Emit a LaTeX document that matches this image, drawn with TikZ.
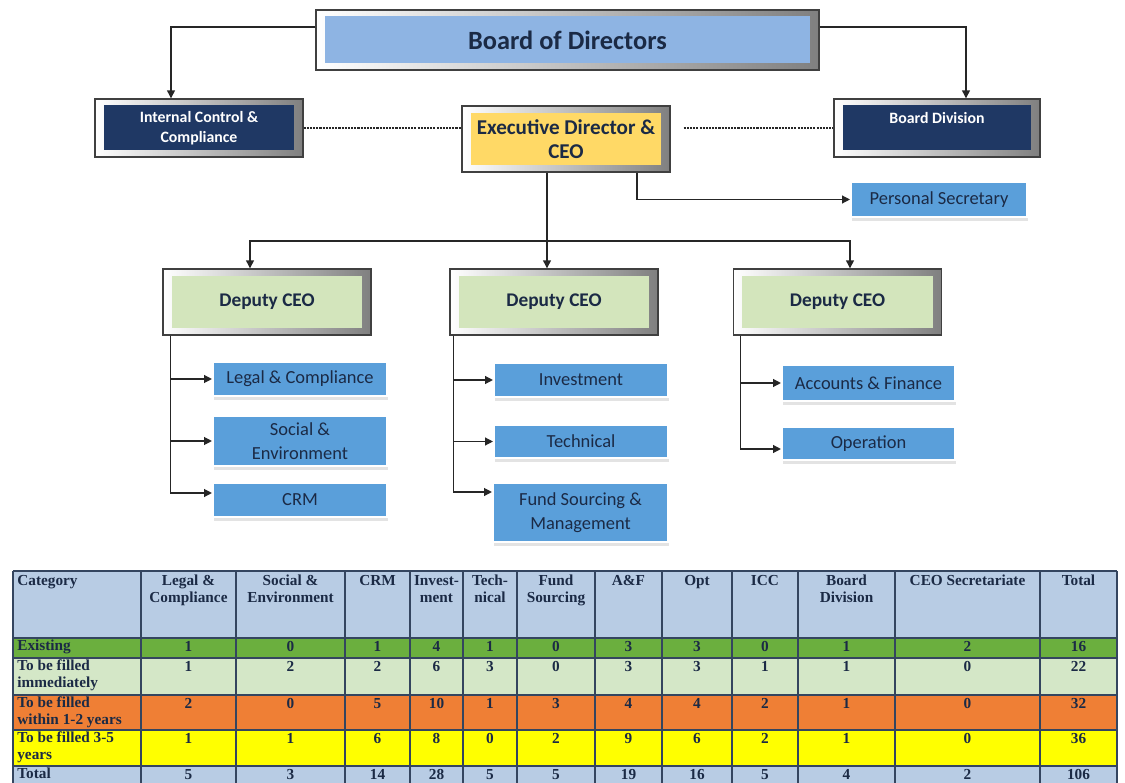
\documentclass[tikz,border=0pt]{standalone}
\usepackage{fontspec}
\setmainfont{Carlito}
\newfontfamily\tabfont{Liberation Serif}
\usetikzlibrary{arrows.meta,calc,positioning,shadows}
\definecolor{OrgInk}{HTML}{1B2A45}
\definecolor{OrgNavy}{HTML}{1F3864}
\definecolor{OrgBoard}{HTML}{8EB4E3}
\definecolor{OrgGold}{HTML}{FFD966}
\definecolor{OrgSage}{HTML}{D3E5BC}
\definecolor{OrgSky}{HTML}{5A9FDA}
\definecolor{TabHead}{HTML}{B8CCE4}
\definecolor{TabGreen}{HTML}{6BAF3E}
\definecolor{TabMint}{HTML}{D4E7C7}
\definecolor{TabOrange}{HTML}{EF7F35}
\definecolor{TabYellow}{HTML}{FFFF00}
\definecolor{TabRule}{HTML}{34455F}
\tikzset{
  every node/.style={text=OrgInk},
  orgbox/.style={draw=black!75, line width=0.8pt, left color=white, right color=black!50, inner sep=0pt, align=center,
    path picture={\fill[#1] ([shift={(0.17cm,0.13cm)}]path picture bounding box.south west) rectangle ([shift={(-0.17cm,-0.13cm)}]path picture bounding box.north east);}},
  unitbox/.style={fill=OrgSky, draw=white, line width=1.2pt, align=center, inner sep=0pt, font=\fontsize{10.5}{13.5}\selectfont,
    drop shadow={shadow xshift=0.3pt, shadow yshift=-2.2pt, fill=black!22}},
  deputy/.style={orgbox=OrgSage, minimum width=4.16cm, minimum height=1.32cm, font=\bfseries\fontsize{11}{13}\selectfont},
  link/.style={draw=black!85, line width=0.7pt},
  flow/.style={link, -{Triangle[length=4.5pt,width=4.5pt]}},
  dotline/.style={draw=black!85, line width=1.3pt, dash pattern=on 1.2pt off 0.6pt},
  cell/.style={font=\tabfont\bfseries\fontsize{8.7}{9.6}\selectfont, text=OrgInk, inner sep=0pt, anchor=north, align=center},
  num/.style={cell, text height=6.2pt, text depth=0pt},
}
\def\colmid{{77,188.5,290.5,377.5,436.5,490,556,628.5,697,765,846.5,967.5,1078.5}}
\begin{document}
\begin{tikzpicture}[x=0.02cm,y=-0.02cm]
  \useasboundingbox (0,0) rectangle (1125,783);
  % top level
  \node[orgbox=OrgBoard, minimum width=10.06cm, minimum height=1.2cm, font=\bfseries\fontsize{15}{18}\selectfont] (board) at (567.5,40) {Board of Directors};
  \node[orgbox=OrgNavy, minimum width=4.16cm, minimum height=1.16cm, text=white, font=\bfseries\fontsize{9}{11.5}\selectfont] (icc) at (199,128) {Internal Control \&\\Compliance};
  \node[orgbox=OrgGold, minimum width=4.16cm, minimum height=1.32cm, font=\bfseries\fontsize{12}{14}\selectfont] (exec) at (566,139) {Executive Director \&\\CEO};
  \node[orgbox=OrgNavy, minimum width=4.12cm, minimum height=1.16cm, text=white, font=\bfseries\fontsize{9}{11}\selectfont] (bdiv) at (937,128) {Board Division\\~};
  \node[unitbox, minimum width=3.52cm, minimum height=0.7cm] (psec) at (939,199.5) {Personal Secretary};
  \draw[flow] ([yshift=0.26cm]board.west) -| ([xshift=-0.56cm]icc.north);
  \draw[flow] ([yshift=0.26cm]board.east) -| ([xshift=0.58cm]bdiv.north);
  \draw[dotline] (icc.east) -- (exec.west |- icc.east);
  \draw[dotline] ([xshift=0.26cm]exec.east |- bdiv.west) -- (bdiv.west);
  \draw[flow] ([xshift=1.42cm]exec.south) |- (psec.west);
  % deputies
  \node[deputy] (dep1) at (267,302) {Deputy CEO};
  \node[deputy] (dep2) at (554,302) {Deputy CEO};
  \node[deputy] (dep3) at (837.5,302) {Deputy CEO};
  \coordinate (bus) at (547,241);
  \draw[link] (exec.south -| bus) -- (bus);
  \draw[flow] (bus) -| ([xshift=-0.34cm]dep1.north);
  \draw[flow] (bus) -- (bus |- dep2.north);
  \draw[flow] (bus) -| ([xshift=0.25cm]dep3.north);
  % units
  \node[unitbox, minimum width=3.48cm, minimum height=0.68cm] (legal) at (300,379) {Legal \& Compliance};
  \node[unitbox, minimum width=3.48cm, minimum height=1.0cm] (soc) at (300,441) {Social \&\\Environment};
  \node[unitbox, minimum width=3.48cm, minimum height=0.68cm] (crm) at (300,500) {CRM};
  \node[unitbox, minimum width=3.48cm, minimum height=0.68cm] (inv) at (581,380) {Investment};
  \node[unitbox, minimum width=3.48cm, minimum height=0.66cm] (tech) at (581,441.5) {Technical};
  \node[unitbox, minimum width=3.5cm, minimum height=1.18cm] (fund) at (580.5,512.5) {Fund Sourcing \&\\Management};
  \node[unitbox, minimum width=3.46cm, minimum height=0.72cm] (acc) at (868.5,383) {Accounts \& Finance};
  \node[unitbox, minimum width=3.46cm, minimum height=0.66cm] (opt) at (868.5,443.5) {Operation};
  \coordinate (spine1) at ([xshift=0.16cm]dep1.south west);
  \coordinate (spine2) at ([xshift=0.08cm]dep2.south west);
  \coordinate (spine3) at ([xshift=0.16cm]dep3.south west);
  \draw[flow] (spine1) |- (legal.west);
  \draw[flow] (spine1) |- (soc.west);
  \draw[flow] (spine1) |- ([yshift=0.14cm]crm.west);
  \draw[flow] (spine2) |- (inv.west);
  \draw[flow] (spine2) |- (tech.west);
  \draw[flow] (spine2) |- ([yshift=0.41cm]fund.west);
  \draw[flow] (spine3) |- (acc.west);
  \draw[flow] (spine3) |- ([yshift=-0.11cm]opt.west);
  % staffing table
  \foreach \ya/\yb/\col in {571/638/TabHead, 638/658/TabGreen, 658/695/TabMint, 695/730/TabOrange, 730/766/TabYellow, 766/783/TabHead}
    \fill[\col] (13,\ya) rectangle (1117,\yb);
  \foreach \xx in {13,141,236,345,410,463,517,595,662,732,798,895,1040,1117}
    \draw[TabRule, line width=0.6pt] (\xx,571) -- (\xx,783);
  \foreach \yy in {571,638,658,695,730,766}
    \draw[TabRule, line width=0.8pt] (13,\yy) -- (1117,\yy);
  \node[cell, anchor=north west, align=left] (cat-0) at (17,575) {Category};
  \foreach \txt [count=\c] in {{Legal \&\\Compliance}, {Social \&\\Environment}, CRM, {Invest-\\ment}, {Tech-\\nical}, {Fund\\Sourcing}, A\&F, Opt, ICC, {Board\\Division}, CEO Secretariate, Total}
    \node[cell] (head-\c) at ({\colmid[\c]},575) {\txt};
  \foreach \r/\ytop/\lab/\vals in {
      1/638/{Existing}/{1,0,1,4,1,0,3,3,0,1,2,16},
      2/658/{To be filled\\immediately}/{1,2,2,6,3,0,3,3,1,1,0,22},
      3/695/{To be filled\\within 1-2 years}/{2,0,5,10,1,3,4,4,2,1,0,32},
      4/730/{To be filled 3-5\\years}/{1,1,6,8,0,2,9,6,2,1,0,36},
      5/766/{Total}/{5,3,14,28,5,5,19,16,5,4,2,106}}
  {
    \node[cell, anchor=north west, align=left] (cat-\r) at (17,\ytop+1.5) {\lab};
    \foreach \v [count=\c] in \vals
      \node[num] (cell-\r-\c) at ({\colmid[\c]},\ytop+2.5) {\v};
  }
\end{tikzpicture}
\end{document}
